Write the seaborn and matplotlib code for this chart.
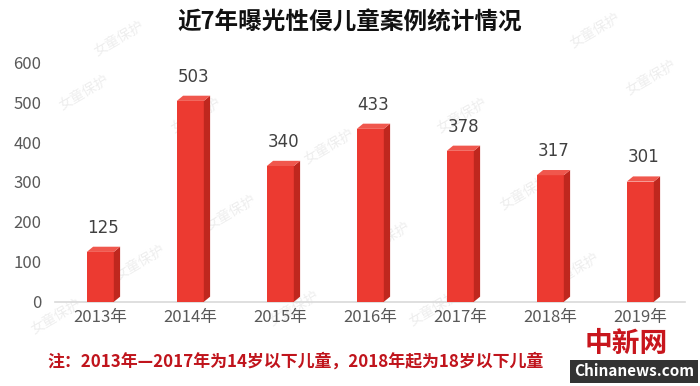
import matplotlib
matplotlib.use("Agg")
import matplotlib.pyplot as plt
from matplotlib.patches import Polygon
import seaborn as sns
import pandas as pd

years = ["2013年", "2014年", "2015年", "2016年", "2017年", "2018年", "2019年"]
cases = [125, 503, 340, 433, 378, 317, 301]
y_ticks = [0, 100, 200, 300, 400, 500, 600]
title = "近7年曝光性侵儿童案例统计情况"
note = "注：2013年—2017年为14岁以下儿童，2018年起为18岁以下儿童"

sns.set_theme(style="white")
plt.rcParams["font.family"] = ["Noto Sans CJK SC", "DejaVu Sans"]

df = pd.DataFrame({"year": years, "cases": cases})

fig = plt.figure(figsize=(7, 3.86), dpi=100)
ax = fig.add_axes([0.079, 0.218, 0.9, 0.621])
ax.set_facecolor("none")
ax.set_zorder(2)

front = "#EC3A31"
side = "#BF271E"
top = "#F0574D"

sns.barplot(data=df, x="year", y="cases", color=front, width=0.3,
            saturation=1, linewidth=0, ax=ax, zorder=3)
ax.set_ylim(0, 600)
ax.set_xlim(-0.5, 6.5)

# 3D side and top faces derived from bar patches
dx = 0.07   # in category units
dy = 13     # in data units
for p in list(ax.patches):
    x0, y0 = p.get_x(), p.get_y()
    w, h = p.get_width(), p.get_height()
    x1 = x0 + w
    ax.add_patch(Polygon([(x1, y0), (x1 + dx, y0 + dy), (x1 + dx, h + dy), (x1, h)],
                         closed=True, facecolor=side, edgecolor="none", zorder=3))
    ax.add_patch(Polygon([(x0, h), (x0 + dx, h + dy), (x1 + dx, h + dy), (x1, h)],
                         closed=True, facecolor=top, edgecolor="none", zorder=3))

for i, v in enumerate(cases):
    ax.text(i + dx / 2, v + 38, str(v), ha="center", va="bottom",
            fontsize=12, color="#404040", family=["DejaVu Sans"])

ax.set_yticks(y_ticks)
ax.set_yticklabels([str(t) for t in y_ticks], fontsize=12, color="#595959")
ax.set_xticks(range(len(years)))
ax.set_xticklabels(years, fontsize=12, color="#595959")
ax.tick_params(axis="x", length=0, pad=5)
ax.tick_params(axis="y", length=0, pad=10)
ax.set_xlabel("")
ax.set_ylabel("")
for s in ["top", "right", "left"]:
    ax.spines[s].set_visible(False)
ax.spines["bottom"].set_color("#D9D9D9")
ax.spines["bottom"].set_linewidth(1.2)
ax.grid(False)

fig.text(0.5, 0.943, title, ha="center", va="center", fontsize=17,
         fontweight="bold", color="#111111")
fig.text(0.068, 0.062, note, ha="left", va="center", fontsize=12.2,
         fontweight="bold", color="#C0141C")

# faint watermarks (behind the chart)
wm_pos = [(0.17, 0.9), (0.12, 0.76), (0.28, 0.7), (0.47, 0.62), (0.66, 0.7),
          (0.85, 0.92), (0.93, 0.8), (0.33, 0.45), (0.55, 0.38), (0.75, 0.5),
          (0.2, 0.32), (0.08, 0.18), (0.42, 0.2), (0.62, 0.2), (0.82, 0.3)]
for (xx, yy) in wm_pos:
    fig.text(xx, yy, "女童保护", rotation=30, fontsize=10, color="#EEEEEE",
             ha="center", va="center", zorder=0)

# site mark
fig.text(0.895, 0.108, "中新网", ha="center", va="center", fontsize=20,
         color="#C8161D", fontweight="bold", zorder=5)
fig.text(0.906, 0.038, "Chinanews.com", ha="center", va="center", fontsize=11,
         color="white", fontweight="bold", zorder=5,
         bbox=dict(boxstyle="square,pad=0.25", facecolor="#333333", edgecolor="none"))

fig.savefig("out.png", dpi=100, facecolor="white")
